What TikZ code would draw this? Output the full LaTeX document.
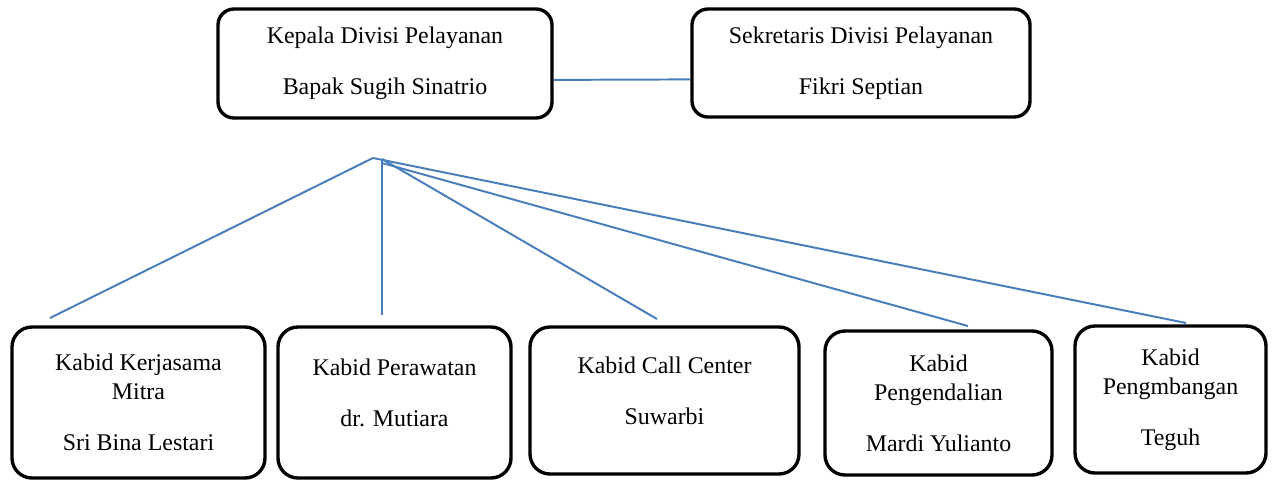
\documentclass[tikz,border=0pt]{standalone}
\usepackage{fontspec}
\setmainfont{Liberation Serif}
\definecolor{linkblue}{HTML}{4A7EBB}
\tikzset{
  unitbox/.style={draw, line width=2.4pt, rounded corners=5mm, align=center, inner sep=0pt},
  link/.style={linkblue, line width=1.4pt}
}

\begin{document}
\begin{tikzpicture}[x=0.25mm, y=-0.25mm, font=\fontsize{17}{20.6}\selectfont]
        \useasboundingbox (0,0) rectangle (1273,481);
        % Top row
        \node[unitbox, rounded corners=4mm, minimum width=83.5mm, minimum height=27.25mm] (kepala) at (385,63.5)
          {Kepala Divisi Pelayanan\\[15.5pt]Bapak Sugih Sinatrio};
        \node[unitbox, rounded corners=4mm, minimum width=84.5mm, minimum height=27mm] (sekretaris) at (861,63)
          {Sekretaris Divisi Pelayanan\\[15.5pt]Fikri Septian};
        \draw[link] ([yshift=-4.1mm]kepala.east) -- ([yshift=-4.1mm]sekretaris.west);
        % Bottom row
        \node[unitbox, minimum width=63.25mm, minimum height=37.75mm] (mitra) at (138.5,402.5)
          {Kabid Kerjasama\\Mitra\\[15.5pt]Sri Bina Lestari};
        \node[unitbox, minimum width=58.25mm, minimum height=37.75mm] (perawatan) at (394.5,402.5)
          {Kabid Perawatan\\[15.5pt]dr. Mutiara\\[-7pt]\mbox{}};
        \node[unitbox, minimum width=67.25mm, minimum height=36.75mm] (callcenter) at (664.5,400.5)
          {Kabid Call Center\\[15.5pt]Suwarbi\\[-7pt]\mbox{}};
        \node[unitbox, minimum width=56.75mm, minimum height=36mm] (pengendalian) at (938.5,403)
          {Kabid\\Pengendalian\\[15.5pt]Mardi Yulianto};
        \node[unitbox, minimum width=47.75mm, minimum height=36.75mm] (pengembangan) at (1170.5,399.5)
          {Kabid\\Pengmbangan\\[15.5pt]Teguh};
        % Fan of lines
        \coordinate (puncak) at (373,158);
        \coordinate (pusat) at (382,159);
        \coordinate (ujungA) at (50,318);
        \coordinate (ujungB) at (382,315);
        \coordinate (ujungC) at (657,319);
        \coordinate (ujungD) at (968,326);
        \coordinate (ujungE) at (1186,323);
        \draw[link] (puncak) -- (ujungA);
        \draw[link] (puncak) -- (ujungE);
        \draw[link] (pusat) -- (ujungB);
        \draw[link] (pusat) -- (ujungC);
        \draw[link] ([yshift=-1mm]pusat) -- (ujungD);
      \end{tikzpicture}
\end{document}
